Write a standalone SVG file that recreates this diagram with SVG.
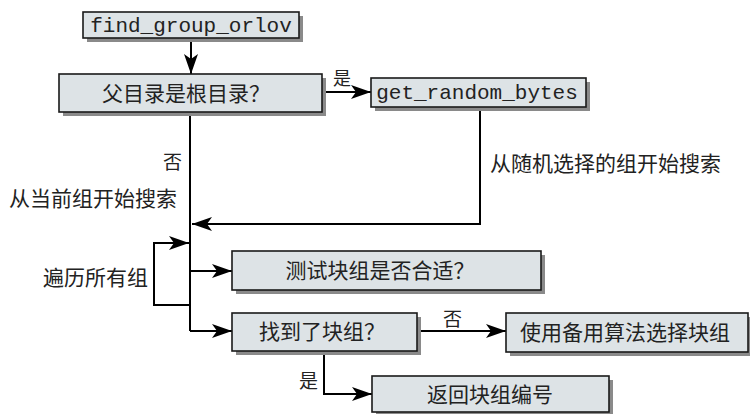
<svg xmlns="http://www.w3.org/2000/svg" width="750" height="414" viewBox="0 0 750 414">
<style>
.box{fill:#dde3e6;stroke:#1a1a1a;stroke-width:1.6}
.sh{fill:#8a8a8a}
.zh{font-family:"Liberation Serif","Noto Sans CJK SC",serif;font-size:21px;fill:#222;text-anchor:middle;dominant-baseline:central}
.lb{font-family:"Noto Sans CJK SC",sans-serif;font-size:21px;fill:#222;dominant-baseline:central}
.mono{font-family:"Liberation Mono",monospace;font-size:21px;fill:#222;text-anchor:middle;dominant-baseline:central}
.ln{fill:none;stroke:#000;stroke-width:2}
</style>
<defs>
<marker id="ah" viewBox="0 0 20 14" refX="20" refY="7" markerWidth="20" markerHeight="14" markerUnits="userSpaceOnUse" orient="auto">
<path d="M0,0 L20,7 L0,14 L5,7 Z" fill="#000"/>
</marker>
</defs>
<g id="connectors">
<path class="ln" d="M191,38 V74" marker-end="url(#ah)"/>
<path class="ln" d="M322,92 H371" marker-end="url(#ah)"/>
<path class="ln" d="M480,107 V224 H192" marker-end="url(#ah)"/>
<path class="ln" d="M190,112 V331"/>
<path class="ln" d="M190,305 H154 V243 H189" marker-end="url(#ah)"/>
<path class="ln" d="M190,271 H232" marker-end="url(#ah)"/>
<path class="ln" d="M190,331 H232" marker-end="url(#ah)"/>
<path class="ln" d="M417,331 H506" marker-end="url(#ah)"/>
<path class="ln" d="M324,351 V394 H372" marker-end="url(#ah)"/>
<text class="lb" x="333" y="77" style="font-size:18px">是</text>
<text class="lb" x="163" y="160" style="font-size:19px">否</text>
<text class="lb" x="443" y="317" style="font-size:19px">否</text>
<text class="lb" x="299" y="379" style="font-size:19px">是</text>
<text class="lb" x="9" y="197">从当前组开始搜索</text>
<text class="lb" x="43" y="276">遍历所有组</text>
<text class="lb" x="490" y="162">从随机选择的组开始搜索</text>
</g>
<g id="n1">
<rect class="sh" x="87" y="16" width="216" height="26"/>
<rect class="box" x="83" y="12" width="216" height="26"/>
<text class="mono" x="191" y="26">find_group_orlov</text>
</g>
<g id="n2">
<rect class="sh" x="63" y="78" width="263" height="38"/>
<rect class="box" x="59" y="74" width="263" height="38"/>
<text class="zh" x="186" y="94">父目录是根目录？</text>
</g>
<g id="n3">
<rect class="sh" x="375" y="82" width="215" height="29"/>
<rect class="box" x="371" y="78" width="215" height="29"/>
<text class="mono" x="477" y="93">get_random_bytes</text>
</g>
<g id="n4">
<rect class="sh" x="236" y="255" width="309" height="39"/>
<rect class="box" x="232" y="251" width="309" height="39"/>
<text class="zh" x="380" y="271">测试块组是否合适？</text>
</g>
<g id="n5">
<rect class="sh" x="236" y="317" width="185" height="38"/>
<rect class="box" x="232" y="313" width="185" height="38"/>
<text class="zh" x="322" y="332">找到了块组？</text>
</g>
<g id="n6">
<rect class="sh" x="510" y="317" width="242" height="39"/>
<rect class="box" x="506" y="313" width="242" height="39"/>
<text class="zh" x="625" y="333">使用备用算法选择块组</text>
</g>
<g id="n7">
<rect class="sh" x="376" y="380" width="237" height="36"/>
<rect class="box" x="372" y="376" width="237" height="36"/>
<text class="zh" x="490" y="395">返回块组编号</text>
</g>
</svg>
